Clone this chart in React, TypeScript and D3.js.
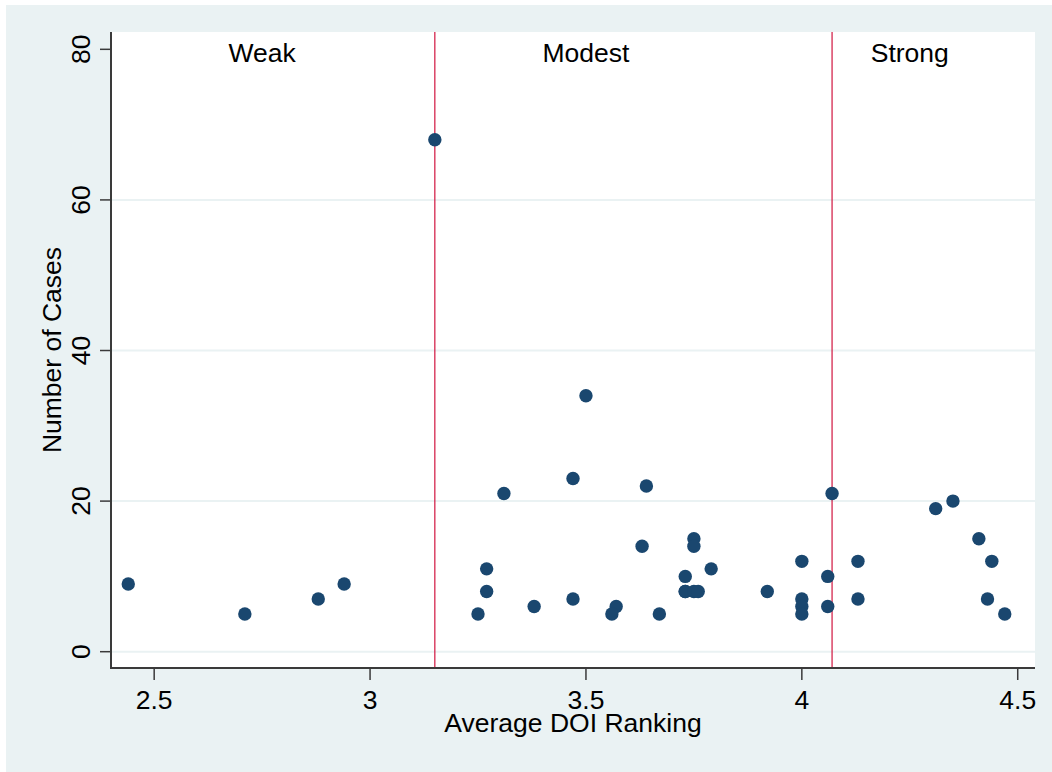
import React from 'react';
import * as d3 from 'd3';

// DOI ranking (x) and number of cases (y) for each case
const doiRanking = [
  2.44, 2.71, 2.88, 2.94, 3.15, 3.25, 3.27, 3.27, 3.31, 3.38,
  3.47, 3.47, 3.5, 3.57, 3.56, 3.64, 3.63, 3.67, 3.73, 3.73,
  3.75, 3.75, 3.73, 3.75, 3.76, 3.79, 3.92, 4.0, 4.0, 4.0,
  4.0, 4.06, 4.06, 4.07, 4.13, 4.13, 4.31, 4.35, 4.41, 4.44,
  4.43, 4.47,
];
const numCases = [
  9, 5, 7, 9, 68, 5, 11, 8, 21, 6,
  23, 7, 34, 6, 5, 22, 14, 5, 10, 8,
  15, 14, 8, 8, 8, 11, 8, 12, 7, 6,
  5, 10, 6, 21, 12, 7, 19, 20, 15, 12,
  7, 5,
];

const xTicks = [2.5, 3, 3.5, 4, 4.5];
const yTicks = [0, 20, 40, 60, 80];
const gridValues = [0, 20, 40, 60];
const cutoffs = [3.15, 4.07];
const bandLabels = ['Weak', 'Modest', 'Strong'];
const bandLabelX = [2.75, 3.5, 4.25];

const W = 1052;
const H = 772;
const plot = { left: 111, right: 1035, top: 32, bottom: 668 };
const font = '"Liberation Sans", Arial, sans-serif';
const navy = '#1a476f';
const bg = '#eaf2f3';

export default function App() {
  const x = d3.scaleLinear().domain([2.4, 4.54]).range([plot.left, plot.right]);
  const y = d3.scaleLinear().domain([-2.165, 82.3]).range([plot.bottom, plot.top]);

  return (
    <svg width={W} height={H} style={{ position: 'absolute', left: 0, top: 0, background: '#fff' }}
      fontFamily={font}>
      <rect x={6} y={5} width={W - 6} height={H - 5} fill={bg} />
      <rect x={plot.left} y={plot.top} width={plot.right - plot.left} height={plot.bottom - plot.top} fill="#fff" />

      {gridValues.map(v => (
        <line key={'g' + v} x1={plot.left} x2={plot.right} y1={y(v)} y2={y(v)} stroke={bg} strokeWidth={2} />
      ))}

      {cutoffs.map(c => (
        <line key={'c' + c} x1={x(c)} x2={x(c)} y1={plot.top} y2={plot.bottom} stroke="#d0143f" strokeWidth={1.2} />
      ))}

      {bandLabels.map((t, i) => (
        <text key={t} x={x(bandLabelX[i])} y={62} fontSize={26.5} textAnchor="middle" fill="#000">{t}</text>
      ))}

      {doiRanking.map((d, i) => (
        <circle key={'p' + i} cx={x(d)} cy={y(numCases[i])} r={6.7} fill={navy} />
      ))}

      {/* axes */}
      <line x1={plot.left} x2={plot.left} y1={plot.top} y2={plot.bottom + 1} stroke="#3a3a3a" strokeWidth={2} />
      <line x1={plot.left - 1} x2={plot.right} y1={plot.bottom} y2={plot.bottom} stroke="#3a3a3a" strokeWidth={2} />

      {yTicks.map(v => (
        <g key={'yt' + v}>
          <line x1={plot.left - 11} x2={plot.left} y1={y(v)} y2={y(v)} stroke="#3a3a3a" strokeWidth={1.5} />
          <text transform={`translate(90,${y(v)}) rotate(-90)`} fontSize={26.5} textAnchor="middle" fill="#000">{v}</text>
        </g>
      ))}
      {xTicks.map(v => (
        <g key={'xt' + v}>
          <line x1={x(v)} x2={x(v)} y1={plot.bottom} y2={plot.bottom + 12} stroke="#3a3a3a" strokeWidth={1.5} />
          <text x={x(v)} y={709} fontSize={26.5} textAnchor="middle" fill="#000">{v}</text>
        </g>
      ))}

      <text transform={`translate(61,${(plot.top + plot.bottom) / 2}) rotate(-90)`} fontSize={26.5}
        textAnchor="middle" fill="#000">Number of Cases</text>
      <text x={(plot.left + plot.right) / 2} y={732} fontSize={26.5} textAnchor="middle" fill="#000">
        Average DOI Ranking
      </text>
    </svg>
  );
}
